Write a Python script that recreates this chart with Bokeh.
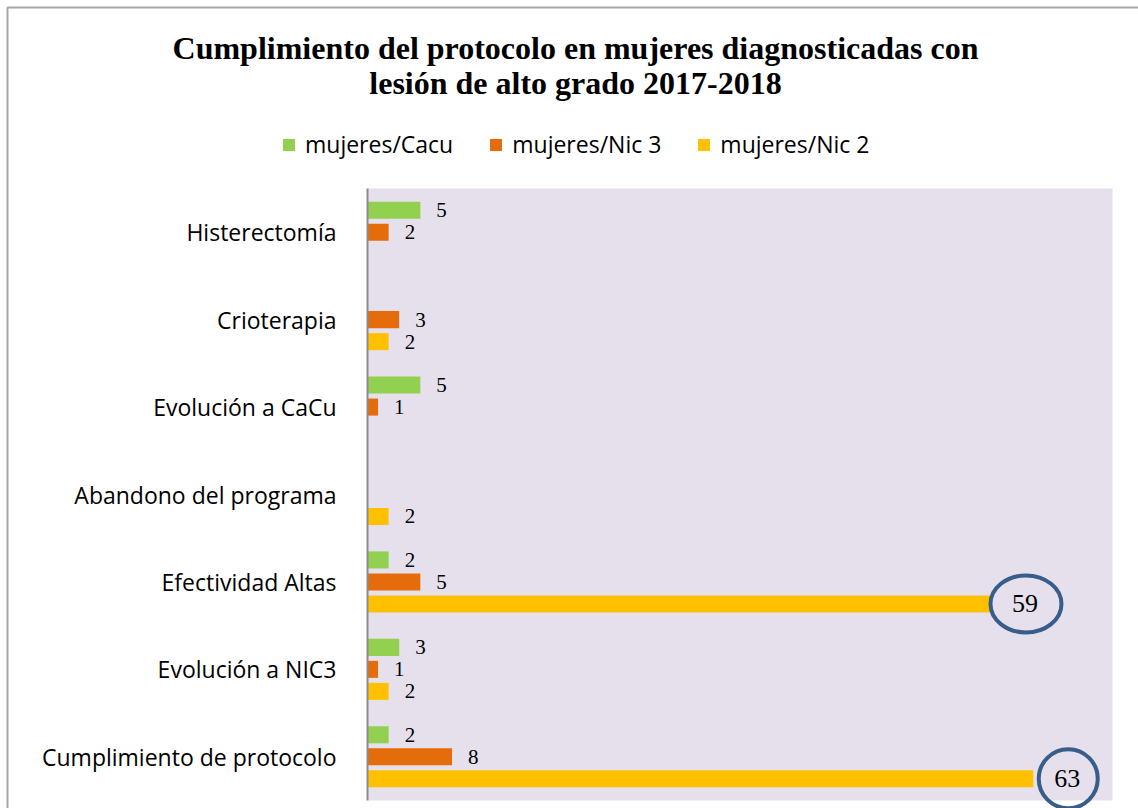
from bokeh.plotting import figure
from bokeh.models import Range1d, ColumnDataSource, Legend, LegendItem, Label
from bokeh.core.properties import value
from bokeh.embed import file_html
from bokeh.resources import INLINE

# ---------------- data ----------------
categories = [
    "Histerectomía",
    "Crioterapia",
    "Evolución a CaCu",
    "Abandono del programa",
    "Efectividad Altas",
    "Evolución a NIC3",
    "Cumplimiento de protocolo",
]
series_names = ["mujeres/Cacu", "mujeres/Nic 3", "mujeres/Nic 2"]
cacu = [5, None, 5, None, 2, 3, 2]
nic3 = [2, 3, 1, None, 5, 1, 8]
nic2 = [None, 2, None, 2, 59, 2, 63]
title_lines = [
    "Cumplimiento del protocolo en mujeres diagnosticadas con",
    "lesión de alto grado 2017-2018",
]
highlighted = [("Efectividad Altas", "mujeres/Nic 2"), ("Cumplimiento de protocolo", "mujeres/Nic 2")]
x_max = 70.5

# ---------------- styles / layout ----------------
series_values = [cacu, nic3, nic2]
series_colors = ["#92D050", "#E46C0A", "#FFC000"]
series_offsets = [0.2516, 0.0, -0.2516]
highlight_sizes = [(71, 57), (59, 59)]
ring_color = "#385D8A"
label_font = "Open Sans"
label_size = "23px"

W, H = 1138, 808
# plot area in canvas pixels
PL, PR, PT, PB = 367, 1112, 188, 800
n = len(categories)
pxu_x = (PR - PL) / x_max
pxu_y = (PB - PT) / n
x0_edge = -PL / pxu_x
x1_edge = x_max + (W - PR) / pxu_x
y0_edge = -(H - PB) / pxu_y
y1_edge = n + PT / pxu_y

p = figure(
    width=W, height=H, output_backend="svg", toolbar_location=None,
    title_location=None, x_axis_location=None, y_axis_location=None,
    x_range=Range1d(x0_edge, x1_edge), y_range=Range1d(y0_edge, y1_edge),
    min_border=0,
)
p.background_fill_color = "white"
p.border_fill_color = "white"
p.outline_line_color = None
p.grid.visible = False

# outer chart border (left and top visible in the reference)
bx = x0_edge + 7 / pxu_x
by = y1_edge - 7 / pxu_y
p.line(x=[bx, bx, x1_edge], y=[y0_edge, by, by],
       line_color="#A6A6A6", line_width=2)

# plot area background
p.quad(left=0, right=x_max, bottom=0, top=n, fill_color="#E5E0EC", line_color=None)

cat_y = {c: n - i - 0.5 for i, c in enumerate(categories)}

legend_items = []
for name, vals, col, off in zip(series_names, series_values, series_colors, series_offsets):
    ys, vs, cats = [], [], []
    for c, v in zip(categories, vals):
        if v is None:
            continue
        ys.append(cat_y[c] + off)
        vs.append(v)
        cats.append(c)
    hl = [(c, name) in highlighted for c in cats]
    src = ColumnDataSource(dict(
        y=ys, v=vs, t=[str(v) for v in vs],
        xo=[21 if h else 16 for h in hl],
        fs=["26px" if h else "21px" for h in hl],
    ))
    r = p.hbar(y="y", left=0, right="v", height=0.195, fill_color=col, line_color=None, source=src)
    p.text(x="v", y="y", text="t", x_offset="xo", text_font_size="fs",
           text_font=value("Liberation Serif"), text_color="#000000",
           text_align="left", text_baseline="middle", source=src)
    legend_items.append(LegendItem(label=name, renderers=[r]))

# highlight rings
hx, hy, hw, hh = [], [], [], []
for (c, s), (w, h) in zip(highlighted, highlight_sizes):
    si = series_names.index(s)
    v = series_values[si][categories.index(c)]
    hx.append(v + 35 / pxu_x)
    hy.append(cat_y[c] + series_offsets[si])
    hw.append(w)
    hh.append(h)
p.ellipse(x=hx, y=hy, width=hw, height=hh, width_units="screen", height_units="screen",
          fill_color=None, line_color=ring_color, line_width=4)

# category axis: line and labels
p.segment(x0=0, y0=0, x1=0, y1=n, line_color="#8C8C8C", line_width=2)
p.text(x=[0] * n, y=[cat_y[c] for c in categories], text=categories, x_offset=-31,
       text_align="right", text_baseline="middle", text_font=value(label_font),
       text_font_size=label_size, text_color="#000000")

# legend
item_h = 15
legend = Legend(
    items=legend_items, orientation="horizontal",
    location=(281, H - 152.5 - item_h / 2),
    glyph_width=15, glyph_height=15, label_height=item_h, label_standoff=9,
    spacing=35, padding=0, margin=0,
    border_line_color=None, background_fill_alpha=0,
    label_text_font=label_font, label_text_font_size=label_size, label_text_color="#000000",
)
p.add_layout(legend)

# title
for line, base in zip(title_lines, [47, 82]):
    p.add_layout(Label(
        x=575, y=H - base, x_units="screen", y_units="screen",
        text=line, text_align="center", text_baseline="alphabetic",
        text_font="Liberation Serif", text_font_style="bold", text_font_size="32px",
        text_color="#000000",
    ))

open("out.html", "w").write(file_html(p, INLINE))
